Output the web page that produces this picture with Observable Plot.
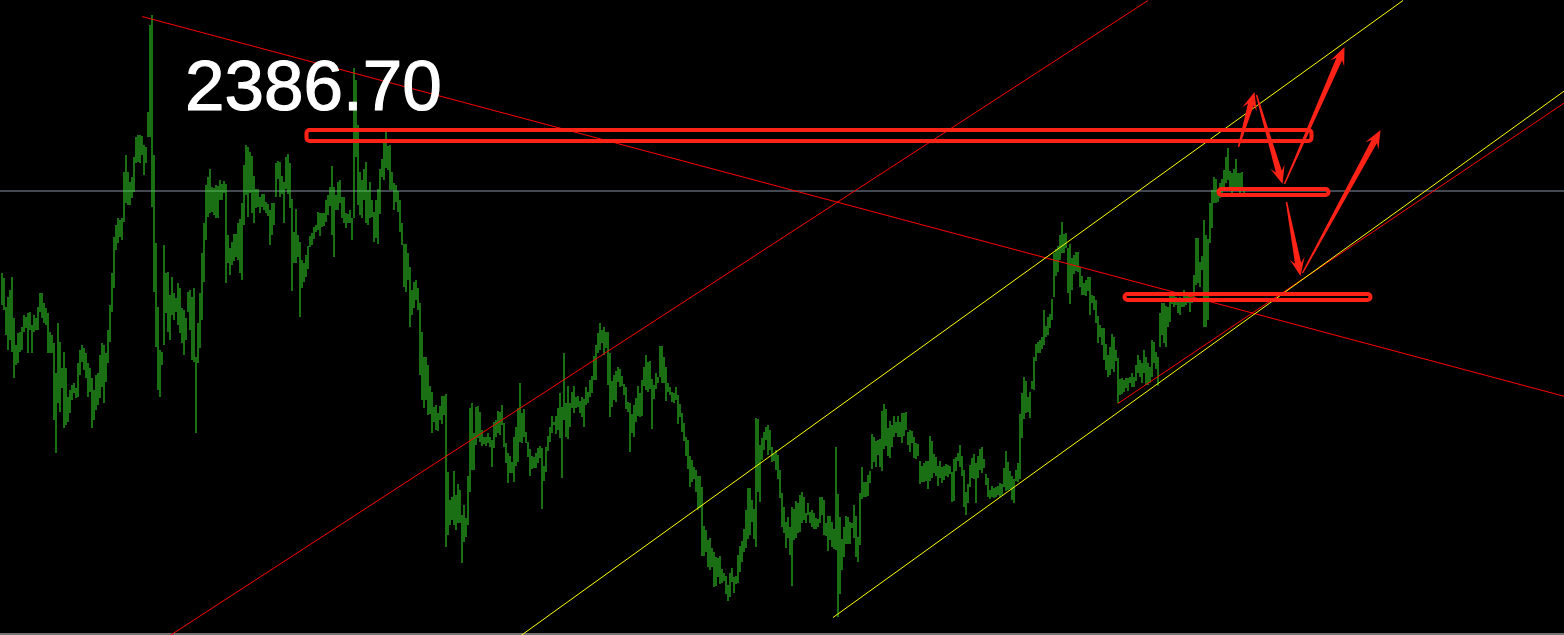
<!DOCTYPE html>
<html>
<head>
<meta charset="utf-8">
<script src="https://cdn.jsdelivr.net/npm/d3@7"></script>
<script src="https://cdn.jsdelivr.net/npm/@observablehq/plot@0.6"></script>
<style>
html, body { margin: 0; padding: 0; background: #000; overflow: hidden; }
#chart svg { display: block; }
</style>
</head>
<body>
<div id="chart"></div>
<script>
// Bar highs (price) for each bar index
const high = [
2247,2242,2213,2223,2230,2243,2202,2175,2187,2188,
2193,2205,2203,2207,2208,2195,2205,2202,2213,2227,
2227,2217,2212,2207,2188,2185,2177,2147,2197,2178,
2152,2168,2152,2123,2130,2135,2137,2132,2157,2170,
2175,2172,2167,2157,2152,2142,2130,2145,2147,2165,
2177,2175,2167,2190,2215,2247,2283,2295,2302,2300,
2302,2348,2365,2348,2338,2343,2363,2383,2385,2385,
2384,2375,2373,2408,2495,2505,2365,2277,2213,2170,
2168,2275,2247,2248,2225,2243,2227,2222,2237,2232,
2212,2210,2202,2228,2230,2223,2232,2163,2197,2227,
2267,2297,2335,2343,2351,2333,2332,2335,2334,2340,
2336,2339,2336,2285,2272,2278,2286,2286,2297,2301,
2317,2355,2375,2373,2368,2364,2344,2331,2331,2323,
2326,2326,2318,2316,2310,2317,2317,2357,2359,2358,
2344,2338,2363,2366,2357,2321,2288,2311,2285,2278,
2260,2257,2265,2274,2284,2287,2293,2295,2308,2307,
2307,2307,2320,2325,2333,2354,2333,2325,2338,2340,
2323,2323,2307,2306,2310,2302,2452,2440,2395,2348,
2340,2351,2358,2330,2338,2320,2308,2320,2331,2351,
2361,2377,2388,2374,2375,2348,2337,2335,2329,2320,
2297,2276,2276,2267,2253,2230,2238,2240,2232,2217,
2188,2163,2163,2155,2134,2128,2113,2115,2107,2114,
2124,2124,2126,2048,2020,2023,2049,2025,2036,2030,
2005,2015,2002,2044,2112,2117,2087,2113,2114,2108,
2090,2083,2083,2087,2083,2080,2098,2100,2109,2108,
2115,2097,2077,2067,2064,2058,2083,2093,2112,2137,
2107,2111,2088,2078,2071,2064,2063,2067,2072,2074,
2072,2054,2073,2084,2093,2104,2098,2104,2112,2127,
2113,2167,2117,2134,2117,2128,2134,2123,2124,2119,
2123,2121,2133,2128,2140,2144,2164,2175,2187,2197,
2190,2193,2188,2188,2167,2139,2145,2149,2153,2151,
2144,2136,2133,2118,2117,2106,2115,2122,2134,2127,
2140,2153,2165,2158,2159,2141,2135,2147,2143,2174,
2174,2163,2153,2137,2133,2128,2127,2133,2125,2116,
2107,2097,2083,2080,2064,2060,2053,2050,2044,2044,
2033,1994,1990,1980,1982,1972,1968,1963,1962,1964,
1951,1947,1944,1935,1947,1952,1943,1944,1965,1974,
1979,1991,2010,2032,2032,2020,2011,2102,2101,2075,
2082,2088,2093,2095,2090,2073,2066,2070,2065,2050,
2027,2013,1998,2003,1993,2013,2011,2019,2017,2025,
2028,2023,2007,2017,2008,2010,2007,2002,2001,2023,
2023,2020,1997,2004,2004,1998,1991,2073,2026,2003,
1981,1993,2004,2003,1998,1997,2015,2004,1983,2027,
2053,2038,2038,2045,2049,2086,2083,2079,2080,2081,
2109,2116,2111,2092,2099,2095,2104,2098,2104,2098,
2107,2107,2108,2088,2090,2089,2083,2077,2076,2059,
2054,2057,2059,2059,2084,2079,2066,2063,2054,2059,
2053,2054,2056,2055,2054,2048,2061,2063,2067,2075,
2064,2050,2028,2036,2055,2062,2066,2057,2064,2071,
2073,2061,2046,2042,2030,2034,2032,2033,2034,2037,
2036,2052,2069,2058,2049,2044,2041,2050,2057,2106,
2127,2143,2139,2123,2128,2139,2163,2176,2178,2180,
2183,2210,2194,2203,2206,2221,2267,2271,2274,2285,
2298,2286,2287,2272,2276,2262,2265,2268,2268,2253,
2244,2237,2240,2243,2243,2225,2224,2220,2204,2195,
2192,2192,2176,2165,2173,2186,2183,2170,2162,2141,
2142,2140,2142,2142,2143,2147,2143,2155,2165,2160,
2157,2170,2163,2157,2153,2180,2178,2168,2163,2207,
2217,2217,2214,2213,2228,2226,2225,2223,2221,2223,
2220,2230,2228,2228,2224,2228,2245,2282,2282,2258,
2264,2300,2285,2281,2317,2330,2343,2341,2330,2337,
2341,2350,2363,2372,2349,2347,2351,2361,2347,2347,
2348,2333
];
// Bar lows (price) for each bar index
const low = [
2215,2210,2185,2170,2180,2168,2142,2155,2157,2168,
2170,2188,2192,2167,2190,2167,2188,2190,2190,2208,
2202,2197,2195,2167,2167,2167,2100,2067,2117,2108,
2132,2092,2095,2098,2107,2120,2127,2122,2123,2145,
2158,2150,2142,2123,2128,2092,2100,2110,2115,2122,
2133,2117,2138,2157,2178,2208,2232,2270,2277,2283,
2280,2298,2317,2315,2315,2322,2328,2357,2358,2357,
2365,2345,2357,2383,2383,2313,2228,2173,2130,2123,
2155,2175,2207,2188,2180,2205,2200,2208,2195,2187,
2177,2165,2180,2208,2190,2160,2158,2087,2157,2172,
2200,2238,2280,2303,2307,2308,2305,2302,2302,2320,
2320,2327,2237,2257,2245,2255,2259,2263,2260,2247,
2240,2295,2325,2303,2327,2307,2297,2312,2313,2307,
2313,2310,2307,2304,2275,2285,2295,2323,2341,2323,
2326,2297,2331,2326,2312,2229,2257,2257,2263,2203,
2232,2238,2243,2251,2273,2275,2281,2288,2290,2284,
2293,2294,2298,2305,2314,2285,2263,2310,2310,2317,
2302,2297,2292,2297,2297,2280,2302,2363,2315,2305,
2302,2320,2297,2295,2302,2303,2278,2282,2276,2306,
2343,2340,2352,2350,2330,2330,2310,2318,2308,2288,
2275,2233,2228,2240,2193,2205,2212,2220,2210,2145,
2120,2112,2120,2105,2106,2087,2098,2090,2089,2100,
2096,2105,1973,1985,1995,2000,1995,1990,1997,1997,
1957,1978,1983,1995,2028,2050,2050,2075,2082,2078,
2074,2076,2074,2077,2073,2053,2072,2083,2087,2085,
2095,2073,2057,2037,2047,2047,2038,2054,2058,2078,
2077,2083,2077,2063,2044,2051,2052,2052,2057,2062,
2011,2039,2048,2069,2078,2087,2095,2086,2090,2082,
2042,2100,2083,2081,2093,2112,2107,2112,2113,2107,
2103,2093,2115,2117,2123,2127,2140,2140,2167,2170,
2177,2165,2172,2135,2103,2113,2120,2118,2138,2133,
2134,2125,2111,2108,2068,2087,2083,2098,2104,2103,
2104,2134,2130,2128,2131,2091,2121,2131,2137,2143,
2137,2137,2119,2128,2125,2118,2117,2120,2096,2103,
2088,2079,2064,2051,2033,2038,2041,2028,2010,2012,
1964,1964,1968,1953,1950,1953,1933,1934,1943,1936,
1937,1939,1926,1919,1923,1938,1927,1936,1937,1948,
1958,1968,1972,1981,1985,1998,1981,1973,2028,2018,
2060,2070,2080,2065,2070,2058,2059,2050,2041,2022,
1993,1987,1972,1982,1965,1934,1980,1982,1987,1988,
1997,2000,1997,2005,1997,1993,1991,1991,1993,1997,
2005,1985,1984,1969,1980,1973,1971,1970,1903,1926,
1950,1963,1976,1976,1976,1992,1982,1963,1958,1975,
2021,2023,2023,2024,2037,2051,2058,2053,2065,2053,
2049,2071,2074,2064,2062,2073,2083,2087,2083,2083,
2077,2084,2090,2075,2068,2077,2062,2061,2064,2036,
2038,2038,2039,2031,2039,2042,2047,2044,2034,2042,
2037,2040,2044,2043,2046,2018,2019,2049,2059,2053,
2044,2013,2005,2017,2033,2042,2041,2017,2042,2050,
2047,2052,2035,2023,2021,2023,2022,2023,2025,2023,
2025,2033,2029,2030,2031,2020,2017,2039,2038,2041,
2082,2101,2107,2108,2102,2131,2130,2159,2167,2167,
2171,2175,2183,2185,2192,2200,2223,2244,2248,2260,
2267,2267,2272,2227,2216,2230,2246,2249,2248,2233,
2225,2225,2224,2229,2205,2217,2210,2197,2177,2183,
2175,2160,2150,2143,2145,2151,2148,2159,2117,2125,
2126,2128,2132,2129,2137,2133,2133,2139,2147,2143,
2137,2147,2135,2135,2137,2143,2157,2151,2134,2173,
2185,2177,2173,2193,2198,2216,2213,2215,2207,2205,
2213,2213,2215,2217,2208,2217,2218,2235,2237,2233,
2250,2193,2193,2200,2277,2292,2317,2317,2318,2322,
2327,2333,2337,2340,2330,2326,2333,2330,2332,2325,
2330,2323
];

// Current price level (horizontal gray line)
const currentPrice = [2329.5];
// Frame baseline price (bottom edge line)
const baseLine = [1886.5];

// Trend lines: start/end bar index and price
const redLines = [
  {x1: 70, y1: 2504, x2: 781.5, y2: 2124},
  {x1: 84, y1: 1885, x2: 573, y2: 2520},
  {x1: 558, y1: 2117, x2: 781.5, y2: 2418}
];
const yellowLines = [
  {x1: 259.5, y1: 1885, x2: 700.5, y2: 2520},
  {x1: 415.5, y1: 1903, x2: 781.5, y2: 2430}
];

// Price zones (boxes): bar index span and price span
const zones = [
  {x1: 152.5, x2: 655, y1: 2379, y2: 2390},
  {x1: 608.5, x2: 663.5, y1: 2325, y2: 2331},
  {x1: 561.5, x2: 684.5, y1: 2220, y2: 2226}
];

// Projected path arrows (tail -> tip, bar index and price)
const arrows = [
  {x1: 618.5, y1: 2373, x2: 626.5, y2: 2428},
  {x1: 627.5, y1: 2425, x2: 640.5, y2: 2336},
  {x1: 641.5, y1: 2336, x2: 671.5, y2: 2473},
  {x1: 642.5, y1: 2318, x2: 649.5, y2: 2244},
  {x1: 650.5, y1: 2247, x2: 689.5, y2: 2390}
];

// Annotation label
const labels = [{x: 91.5, y: 2411, text: "2386.70"}];

const bars = high.map((h, i) => ({i, high: h, low: low[i]}));

const RED = "#ff2216";

const chart = Plot.plot({
  width: 1564,
  height: 635,
  margin: 0,
  style: {background: "#000", overflow: "hidden"},
  x: {domain: [-0.5, 781.5], range: [0.5, 1564.5], axis: null},
  y: {domain: [1885, 2520], range: [635, 0], axis: null},
  marks: [
    Plot.ruleY(currentPrice, {stroke: "#8391a3", strokeWidth: 1}),
    Plot.ruleY(baseLine, {stroke: "#e8e8e8", strokeWidth: 1}),
    Plot.ruleX(bars, {x: "i", y1: "low", y2: "high", stroke: "#34dc28", strokeWidth: 1}),
    Plot.link(redLines, {x1: "x1", y1: "y1", x2: "x2", y2: "y2", stroke: "#ff0000", strokeWidth: 1, clip: true}),
    Plot.link(yellowLines, {x1: "x1", y1: "y1", x2: "x2", y2: "y2", stroke: "#ffff00", strokeWidth: 1, clip: true}),
    Plot.rect(zones, {x1: "x1", x2: "x2", y1: "y1", y2: "y2", fill: "none", stroke: RED, strokeWidth: 4, rx: 3}),
    Plot.text(labels, {x: "x", y: "y", text: "text", fill: "#ffffff", stroke: "#ffffff", strokeWidth: 1.2, fontSize: 71, fontFamily: "Liberation Sans", textAnchor: "start", lineAnchor: "bottom"})
  ]
});

// Tapered, filled arrows positioned through the plot's own scales
const sx = chart.scale("x"), sy = chart.scale("y");
const g = d3.select(chart).append("g").attr("fill", RED);
for (const a of arrows) {
  const x0 = sx.apply(a.x1), y0 = sy.apply(a.y1);
  const x1 = sx.apply(a.x2), y1 = sy.apply(a.y2);
  const dx = x1 - x0, dy = y1 - y0, L = Math.hypot(dx, dy);
  const ux = dx / L, uy = dy / L, nx = -uy, ny = ux;
  const headLen = 18, neck = 13, headHalf = 7.5, tail = 0.7, shaft = 3.1;
  const P = (along, side) => [x0 + ux * along + nx * side, y0 + uy * along + ny * side];
  const pts = [
    P(0, tail), P(L - neck, shaft), P(L - headLen, headHalf), P(L, 0),
    P(L - headLen, -headHalf), P(L - neck, -shaft), P(0, -tail)
  ];
  g.append("path").attr("d", "M" + pts.map(p => p.join(",")).join("L") + "Z");
}

document.getElementById("chart").appendChild(chart);
</script>
</body>
</html>
